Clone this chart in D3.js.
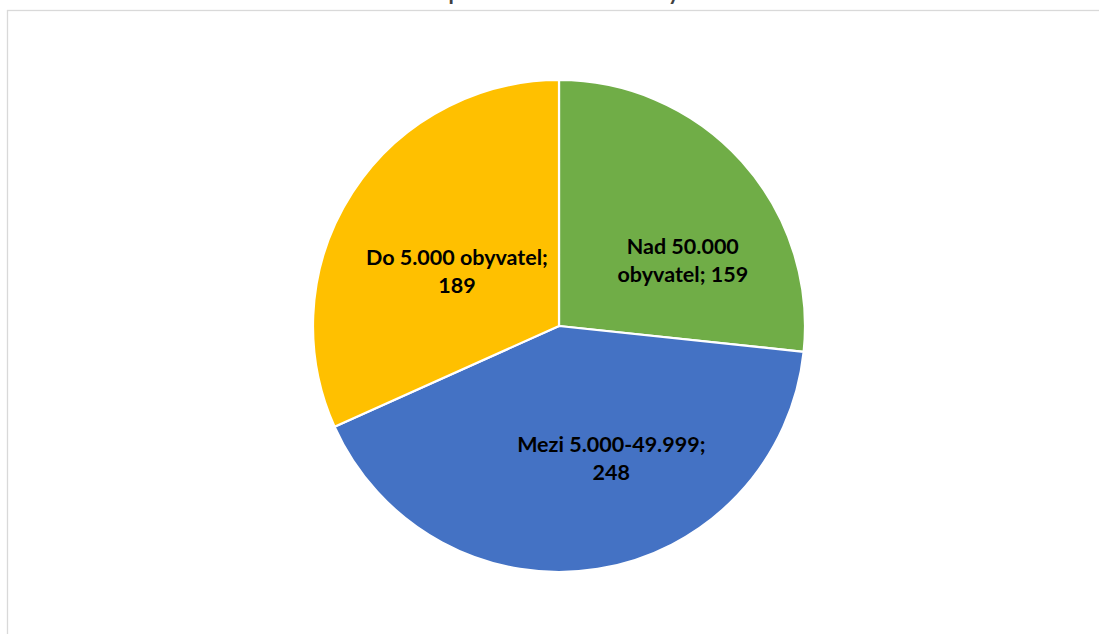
<!DOCTYPE html>
<html>
<head>
<meta charset="utf-8">
<script src="https://cdn.jsdelivr.net/npm/d3@7"></script>
<style>
  html, body { margin: 0; padding: 0; background: #ffffff; }
  svg { display: block; }
</style>
</head>
<body>
<svg id="chart" width="1099" height="634"></svg>
<script>
// ---- data ----
const titleText = "Obce podle velikosti – dle obyvatel";
const categories = ["Nad 50.000 obyvatel", "Mezi 5.000-49.999", "Do 5.000 obyvatel"];
const values = [159, 248, 189];
const colors = ["#70AD47", "#4472C4", "#FFC000"];
// label line breaks (text content only)
const labelLines = [
  ["Nad 50.000", "obyvatel; 159"],
  ["Mezi 5.000-49.999;", "248"],
  ["Do 5.000 obyvatel;", "189"]
];

// ---- layout ----
const W = 1099, H = 634;
const cx = 559, cy = 326, R = 246;
const svg = d3.select("#chart");

// chart area frame
svg.append("rect")
  .attr("x", 7.5).attr("y", 10.5)
  .attr("width", W + 20).attr("height", H + 20)
  .attr("fill", "#ffffff")
  .attr("stroke", "#d9d9d9")
  .attr("stroke-width", 1.3);

// title (mostly cut off above the view, as in the original)
const title = svg.append("text")
  .attr("x", 0).attr("y", -0.5)
  .attr("font-family", "Lato, 'Liberation Sans', sans-serif")
  .attr("font-weight", "bold")
  .attr("font-size", 21.5)
  .attr("fill", "#404040")
  .text(titleText);
const tw = title.node().getComputedTextLength();
title.attr("x", cx - tw / 2);

const data = categories.map((c, i) => ({ cat: c, value: values[i], color: colors[i], lines: labelLines[i] }));

const pie = d3.pie().sort(null).value(d => d.value);
const arc = d3.arc().innerRadius(0).outerRadius(R);
const arcs = pie(data);

const g = svg.append("g").attr("transform", `translate(${cx},${cy})`);
g.selectAll("path.slice")
  .data(arcs)
  .enter().append("path")
  .attr("class", "slice")
  .attr("d", arc)
  .attr("fill", d => d.data.color)
  .attr("stroke", "#ffffff")
  .attr("stroke-width", 2.2)
  .attr("stroke-linejoin", "round");

// label placement (best-fit style: angle in degrees and radius fraction per slice)
const labelPlace = [
  { ang: 62, rf: 0.57 },
  { ang: 158.5, rf: 0.58 },
  { ang: 298, rf: 0.47 }
];
const lineH = 28;
arcs.forEach((a, i) => {
  const p = labelPlace[i];
  const rad = p.ang * Math.PI / 180;
  const lx = Math.sin(rad) * R * p.rf;
  const ly = -Math.cos(rad) * R * p.rf;
  const t = g.append("text")
    .attr("text-anchor", "middle")
    .attr("font-family", "Lato, 'Liberation Sans', sans-serif")
    .attr("font-weight", "bold")
    .attr("font-size", 21.5)
    .attr("fill", "#000000");
  const n = a.data.lines.length;
  a.data.lines.forEach((ln, k) => {
    t.append("tspan")
      .attr("x", lx)
      .attr("y", ly + (k - (n - 1) / 2) * lineH)
      .attr("dy", "0.35em")
      .text(ln);
  });
});
</script>
</body>
</html>
